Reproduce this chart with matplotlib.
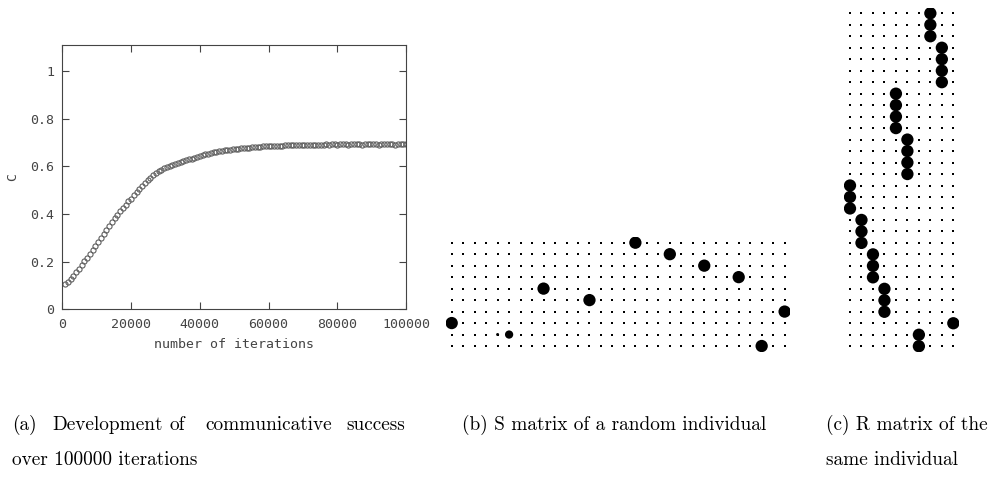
import numpy as np
import matplotlib
matplotlib.use('Agg')
import matplotlib.pyplot as plt

# ---- panel (a): communicative success vs iterations
iter_step = 800
success = [
    0.105, 0.116, 0.128, 0.141, 0.155, 0.170, 0.185, 0.201, 0.217, 0.233,
    0.249, 0.266, 0.283, 0.301, 0.318, 0.335, 0.351, 0.367, 0.383, 0.398,
    0.412, 0.426, 0.440, 0.453, 0.465, 0.478, 0.491, 0.504, 0.517, 0.529,
    0.541, 0.552, 0.562, 0.571, 0.579, 0.586, 0.592, 0.597, 0.602, 0.607,
    0.612, 0.616, 0.620, 0.624, 0.627, 0.630, 0.633, 0.636, 0.640, 0.644,
    0.648, 0.651, 0.654, 0.657, 0.660, 0.662, 0.664, 0.666, 0.668, 0.669,
    0.671, 0.672, 0.674, 0.675, 0.676, 0.677, 0.678, 0.679, 0.680, 0.681,
    0.682, 0.683, 0.684, 0.684, 0.685, 0.685, 0.686, 0.686, 0.687, 0.687,
    0.688, 0.688, 0.689, 0.689, 0.690, 0.690, 0.690, 0.691, 0.691, 0.691,
    0.692, 0.692, 0.692, 0.692, 0.692, 0.693, 0.692, 0.693, 0.693, 0.692,
    0.693, 0.693, 0.693, 0.692, 0.693, 0.693, 0.693, 0.693, 0.692, 0.693,
    0.693, 0.693, 0.693, 0.693, 0.692, 0.693, 0.693, 0.693, 0.693, 0.693,
    0.692, 0.693, 0.693, 0.693, 0.693,
]
iterations = iter_step * np.arange(1, len(success) + 1)

xticks_a = [0, 20000, 40000, 60000, 80000, 100000]
yticks_a = [0, 0.2, 0.4, 0.6, 0.8, 1.0]
ytick_labels_a = ['0', '0.2', '0.4', '0.6', '0.8', '1']

# ---- panel (b): S matrix (10 meanings x 30 signals), non-zero cells
s_shape = (10, 30)
s_rows = [0, 1, 2, 3, 4, 5, 6, 7, 8, 8, 9]
s_cols = [16, 19, 22, 25, 8, 12, 29, 0, 4, 5, 27]
s_vals = [1, 1, 1, 1, 1, 1, 1, 1, 0.08, 0.6, 1]

# ---- panel (c): R matrix (30 signals x 10 meanings), non-zero cells
r_shape = (30, 10)
r_rows = list(range(30))
r_cols = [7, 7, 7, 8, 8, 8, 8, 4, 4, 4, 4, 5, 5, 5, 5,
          0, 0, 0, 1, 1, 1, 2, 2, 2, 3, 3, 3, 9, 6, 6]
r_vals = [1] * 30

captions = {
    'a1': ['(a)', 'Development', 'of', 'communicative', 'success'],
    'a2': 'over 100000 iterations',
    'b': '(b) S matrix of a random individual',
    'c1': '(c) R matrix of the',
    'c2': 'same individual',
}

W, H = 999, 480
fig = plt.figure(figsize=(W / 100, H / 100), dpi=100)

def px_rect(left, top, right, bottom):
    return [left / W, 1 - bottom / H, (right - left) / W, (bottom - top) / H]

# (a) gnuplot-like line plot
gray = '#444444'
ax = fig.add_axes(px_rect(62.3, 45, 406, 309.3))
ax.plot(iterations, success, ls='none', marker='o', ms=3.7, mfc='none',
        mec='#606060', mew=0.8)
ax.set_xlim(0, 100000)
ax.set_ylim(0, 1.11)
ax.set_xticks(xticks_a)
ax.set_yticks(yticks_a)
ax.set_yticklabels(ytick_labels_a)
mono = 'DejaVu Sans Mono'
for lab in ax.get_xticklabels() + ax.get_yticklabels():
    lab.set_family(mono)
    lab.set_fontsize(9.5)
    lab.set_color(gray)
ax.tick_params(direction='in', length=5, width=0.8, color=gray,
               top=True, right=True, pad=6)
for sp in ax.spines.values():
    sp.set_color(gray)
    sp.set_linewidth(0.8)
ax.set_xlabel('number of iterations', family=mono, fontsize=9.5, color=gray,
              labelpad=5)
ax.set_ylabel('C', family=mono, fontsize=9.5, color=gray, labelpad=8)

def px_to_pt(d):
    return d * 72 / 100

d_small, d_big = 2.2, 12.3

def draw_matrix(ax, shape, rows, cols, vals):
    nr, nc = shape
    gr, gc = np.meshgrid(np.arange(nr), np.arange(nc), indexing='ij')
    ax.scatter(gc.ravel(), gr.ravel(), s=px_to_pt(2.0) ** 2, marker='s',
               color='black', linewidths=0)
    sizes = [(px_to_pt(d_small + (d_big - d_small) * v)) ** 2 for v in vals]
    ax.scatter(cols, rows, s=sizes, marker='o', color='black', linewidths=0,
               zorder=3)
    ax.set_xlim(-0.5, nc - 0.5)
    ax.set_ylim(nr - 0.5, -0.5)
    ax.axis('off')

cell = 11.48
axb = fig.add_axes(px_rect(451.7 - cell / 2, 242.7 - cell / 2,
                           451.7 + cell * 29.5, 242.7 + cell * 9.5))
draw_matrix(axb, s_shape, s_rows, s_cols, s_vals)

axc = fig.add_axes(px_rect(850 - cell / 2, 13.3 - cell / 2,
                           850 + cell * 9.5, 13.3 + cell * 29.5))
draw_matrix(axc, r_shape, r_rows, r_cols, r_vals)

# captions
serif = dict(family='cmr10', fontsize=13.9, va='baseline')
y1, y2 = 1 - 430 / H, 1 - 465 / H
word_x = [12, 52.7, 170, 205]
for w, x in zip(captions['a1'][:-1], word_x):
    fig.text(x / W, y1, w, ha='left', **serif)
fig.text(405 / W, y1, captions['a1'][-1], ha='right', **serif)
fig.text(12 / W, y2, captions['a2'], ha='left', **serif)
fig.text(462 / W, y1, captions['b'], ha='left', **serif)
fig.text(826 / W, y1, captions['c1'], ha='left', **serif)
fig.text(826 / W, y2, captions['c2'], ha='left', **serif)

fig.savefig('out.png', dpi=100)
